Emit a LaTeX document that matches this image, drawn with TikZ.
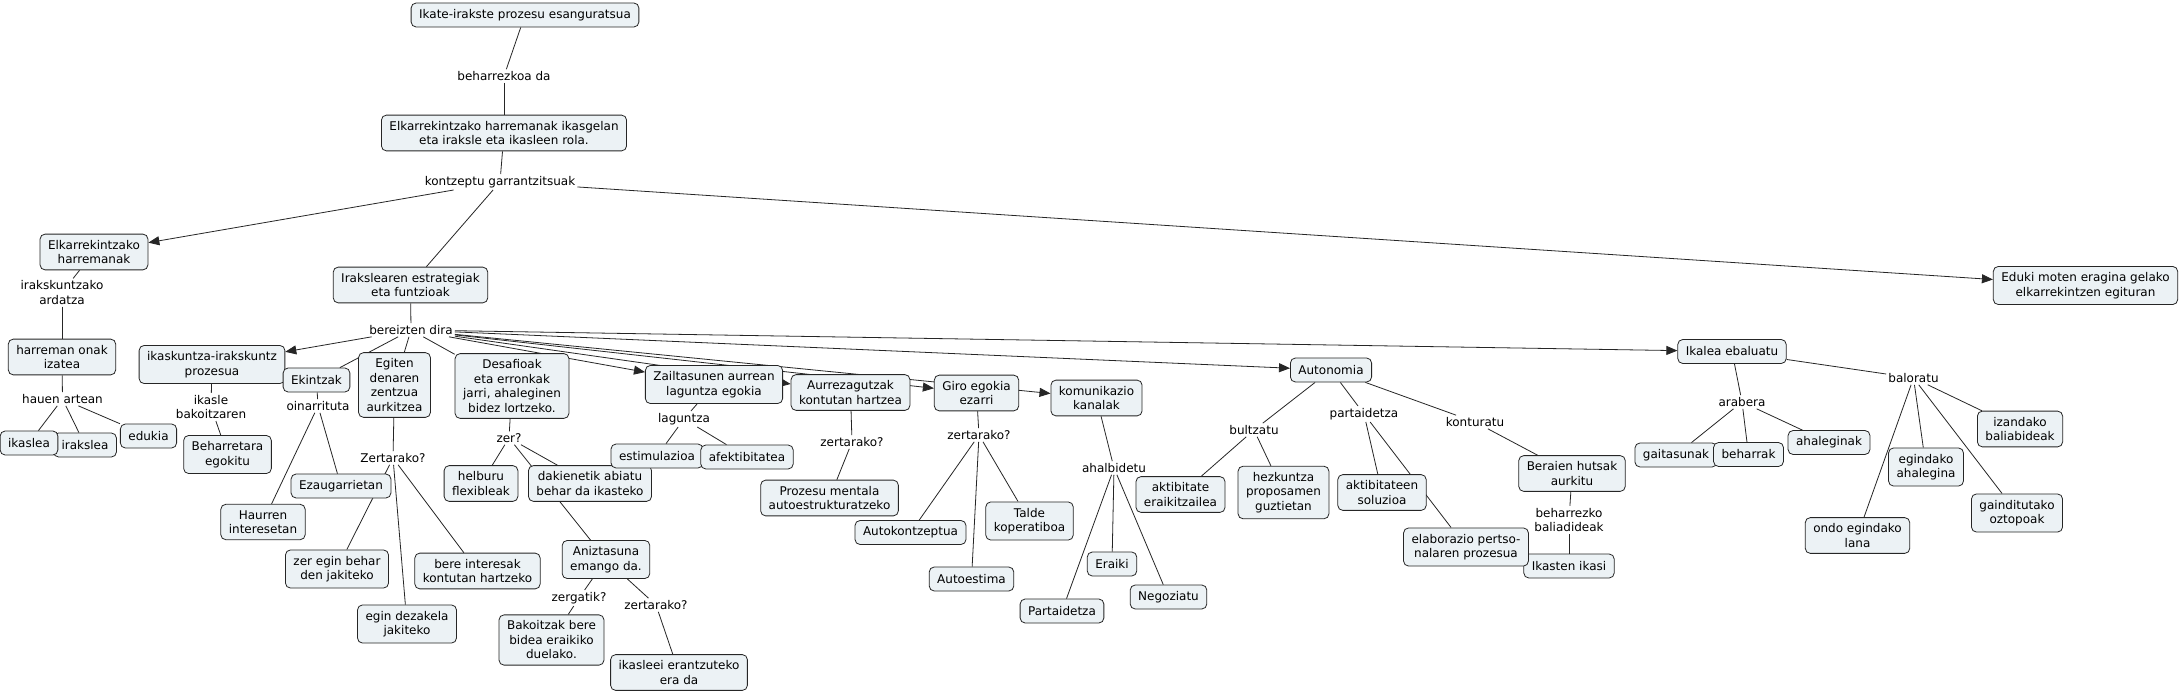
\documentclass[tikz,border=0pt]{standalone}
\usepackage{fontspec}
\setmainfont{DejaVu Sans}
\usetikzlibrary{arrows.meta,backgrounds}
\definecolor{cfill}{RGB}{236,242,245}

\begin{document}
\begin{tikzpicture}[
    x=1pt, y=-1pt,
    cpt/.style={rectangle, draw=black!85, fill=cfill, line width=0.8pt, rounded corners=5pt, align=center, minimum height=24pt, inner xsep=8pt, inner ysep=6pt, font=\fontsize{12}{14.5}\selectfont},
    lnk/.style={align=center, inner sep=2pt, font=\fontsize{12}{14.5}\selectfont},
    ln/.style={draw=black!85, line width=0.8pt},
    arr/.style={-{Triangle[length=11pt,width=9pt]}, line width=0.8pt, draw=black!85}
]
    \useasboundingbox (0,0) rectangle (2181,695);

    % top of the map
    \node [cpt] (ikate) at (525,15) {Ikate-irakste prozesu esanguratsua};
    \node [lnk] (lbeh) at (504,76) {beharrezkoa da};
    \node [cpt] (elkik) at (504,133) {Elkarrekintzako harremanak ikasgelan\\eta iraksle eta ikasleen rola.};
    \node [lnk] (lkon) at (500,182) {kontzeptu garrantzitsuak};
    \node [cpt] (elkh) at (94,252) {Elkarrekintzako\\harremanak};
    \node [cpt] (irak) at (410.5,285) {Irakslearen estrategiak\\eta funtzioak};
    \node [cpt] (eduki) at (2085.5,285.5) {Eduki moten eragina gelako\\elkarrekintzen egituran};

    % left branch
    \node [lnk] (lard) at (62,292.5) {irakskuntzako\\ardatza};
    \node [cpt] (harr) at (62,357) {harreman onak\\izatea};
    \node [lnk] (lhau) at (62.5,399) {hauen artean};
    \node [cpt] (irakslea) at (85,445) {irakslea};
    \node [cpt] (ikaslea) at (29,443) {ikaslea};
    \node [cpt] (edukia) at (148.5,436) {edukia};

    % strategies
    \node [lnk] (lber) at (411,330) {bereizten dira};
    \node [cpt] (ikask) at (212,364.5) {ikaskuntza-irakskuntz\\prozesua};
    \node [cpt] (ekin) at (316.5,380) {Ekintzak};
    \node [lnk] (lbak) at (211,407) {ikasle\\bakoitzaren};
    \node [cpt] (behar) at (227.5,454.5) {Beharretara\\egokitu};
    \node [lnk] (loin) at (318,406) {oinarrituta};
    \node [cpt] (haur) at (263,522) {Haurren\\interesetan};
    \node [cpt] (ezaug) at (341,486) {Ezaugarrietan};

    \node [cpt] (egiten) at (394.5,385) {Egiten\\denaren\\zentzua\\aurkitzea};
    \node [lnk] (lzert1) at (393,458) {Zertarako?};
    \node [cpt] (zeregin) at (337,569) {zer egin behar\\den jakiteko};
    \node [cpt] (bereint) at (477.5,571) {bere interesak\\kontutan hartzeko};
    \node [cpt] (egindez) at (407,624) {egin dezakela\\jakiteko};

    \node [cpt] (desaf) at (512,386) {Desafioak\\eta erronkak\\jarri, ahaleginen\\bidez lortzeko.};
    \node [lnk] (lzer) at (509,438) {zer?};
    \node [cpt] (helb) at (481,483.5) {helburu\\flexibleak};
    \node [cpt] (dakien) at (590,483.5) {dakienetik abiatu\\behar da ikasteko};
    \node [cpt] (aniz) at (606,559.5) {Aniztasuna\\emango da.};
    \node [lnk] (lzerg) at (579,598) {zergatik?};
    \node [lnk] (lzert2) at (656,605) {zertarako?};
    \node [cpt] (bakoi) at (551.5,640) {Bakoitzak bere\\bidea eraikiko\\duelako.};
    \node [cpt] (ikasleei) at (679,672.5) {ikasleei erantzuteko\\era da};

    \node [cpt] (zail) at (714,384.5) {Zailtasunen aurrean\\laguntza egokia};
    \node [lnk] (llag) at (684,419) {laguntza};
    \node [cpt] (estim) at (657,456) {estimulazioa};
    \node [cpt] (afekt) at (747,457) {afektibitatea};

    \node [cpt] (aurre) at (850.5,392.5) {Aurrezagutzak\\kontutan hartzea};
    \node [lnk] (lzert3) at (852,442) {zertarako?};
    \node [cpt] (prozesu) at (829.5,498) {Prozesu mentala\\autoestrukturatzeko};

    \node [cpt] (giro) at (976.5,393) {Giro egokia\\ezarri};
    \node [lnk] (lzert4) at (979,435) {zertarako?};
    \node [cpt] (autok) at (910.5,532.5) {Autokontzeptua};
    \node [cpt] (talde) at (1029.5,521) {Talde\\koperatiboa};
    \node [cpt] (autoe) at (971.5,579) {Autoestima};

    \node [cpt] (komun) at (1096.5,398) {komunikazio\\kanalak};
    \node [lnk] (lahal) at (1114,468) {ahalbidetu};
    \node [cpt] (eraiki) at (1112,564) {Eraiki};
    \node [cpt] (negoz) at (1168.5,597) {Negoziatu};
    \node [cpt] (parta) at (1062,611) {Partaidetza};

    % autonomy
    \node [cpt] (auton) at (1331,370) {Autonomia};
    \node [lnk] (lbul) at (1254,430) {bultzatu};
    \node [lnk] (lpar) at (1364,414) {partaidetza};
    \node [lnk] (lkontu) at (1475,422) {konturatu};
    \node [cpt] (aktera) at (1180.5,494.5) {aktibitate\\eraikitzailea};
    \node [cpt] (hezk) at (1283.5,492.5) {hezkuntza\\proposamen\\guztietan};
    \node [cpt] (aktsol) at (1382,492.5) {aktibitateen\\soluzioa};
    \node [cpt] (beraien) at (1572,473.5) {Beraien hutsak\\aurkitu};
    \node [lnk] (lbal) at (1569,520) {beharrezko\\baliadideak};
    \node [cpt] (ikasten) at (1569,566) {Ikasten ikasi};
    \node [cpt] (elab) at (1466,547) {elaborazio pertso-\\nalaren prozesua};

    % evaluation
    \node [cpt] (ikalea) at (1732,351.5) {Ikalea ebaluatu};
    \node [lnk] (larab) at (1742,402) {arabera};
    \node [cpt] (gaitas) at (1676,455) {gaitasunak};
    \node [cpt] (beharrak) at (1748.5,454.5) {beharrak};
    \node [cpt] (ahaleg) at (1829,442.5) {ahaleginak};
    \node [lnk] (lbalo) at (1913.5,378) {baloratu};
    \node [cpt] (izand) at (2020,429) {izandako\\baliabideak};
    \node [cpt] (egindak) at (1926,467) {egindako\\ahalegina};
    \node [cpt] (gaindi) at (2017,513) {gainditutako\\oztopoak};
    \node [cpt] (ondo) at (1857.5,535.5) {ondo egindako\\lana};

    \begin{pgfonlayer}{background}
    \fill [white] (0,0) rectangle (2181,695);
    \draw [ln] (ikate) -- (lbeh);
    \draw [ln] (lbeh) -- (elkik);
    \draw [ln] (elkik) -- (lkon);
    \draw [arr] (lkon) -- (elkh);
    \draw [ln] (lkon) -- (irak);
    \draw [arr] (lkon) -- (eduki);

    \draw [ln] (elkh) -- (lard);
    \draw [ln] (lard) -- (harr);
    \draw [ln] (harr) -- (lhau);
    \draw [ln] (lhau) -- (ikaslea);
    \draw [ln] (lhau) -- (irakslea);
    \draw [ln] (lhau) -- (edukia);

    \draw [ln] (irak) -- (lber);
    \draw [arr] (lber) -- (ikask);
    \draw [ln] (lber) -- (ekin);
    \draw [ln] (lber) -- (egiten);
    \draw [ln] (lber) -- (desaf);
    \draw [arr] (lber) -- (zail);
    \draw [arr] (lber) -- (aurre);
    \draw [arr] (lber) -- (giro);
    \draw [arr] (lber) -- (komun);
    \draw [arr] (lber) -- (auton);
    \draw [arr] (lber) -- (ikalea);

    \draw [ln] (ikask) -- (lbak);
    \draw [ln] (lbak) -- (behar);
    \draw [ln] (ekin) -- (loin);
    \draw [ln] (loin) -- (haur);
    \draw [ln] (loin) -- (ezaug);
    \draw [ln] (egiten) -- (lzert1);
    \draw [ln] (lzert1) -- (zeregin);
    \draw [ln] (lzert1) -- (egindez);
    \draw [ln] (lzert1) -- (bereint);

    \draw [ln] (desaf) -- (lzer);
    \draw [ln] (lzer) -- (helb);
    \draw [ln] (lzer) -- (dakien);
    \draw [ln] (lzer) -- (aniz);
    \draw [ln] (aniz) -- (lzerg);
    \draw [ln] (lzerg) -- (bakoi);
    \draw [ln] (aniz) -- (lzert2);
    \draw [ln] (lzert2) -- (ikasleei);

    \draw [ln] (zail) -- (llag);
    \draw [ln] (llag) -- (estim);
    \draw [ln] (llag) -- (afekt);
    \draw [ln] (aurre) -- (lzert3);
    \draw [ln] (lzert3) -- (prozesu);
    \draw [ln] (giro) -- (lzert4);
    \draw [ln] (lzert4) -- (autok);
    \draw [ln] (lzert4) -- (autoe);
    \draw [ln] (lzert4) -- (talde);
    \draw [ln] (komun) -- (lahal);
    \draw [ln] (lahal) -- (parta);
    \draw [ln] (lahal) -- (eraiki);
    \draw [ln] (lahal) -- (negoz);

    \draw [ln] (auton) -- (lbul);
    \draw [ln] (lbul) -- (aktera);
    \draw [ln] (lbul) -- (hezk);
    \draw [ln] (auton) -- (lpar);
    \draw [ln] (lpar) -- (aktsol);
    \draw [ln] (lpar) -- (elab);
    \draw [ln] (auton) -- (lkontu);
    \draw [ln] (lkontu) -- (beraien);
    \draw [ln] (beraien) -- (lbal);
    \draw [ln] (lbal) -- (ikasten);

    \draw [ln] (ikalea) -- (larab);
    \draw [ln] (larab) -- (gaitas);
    \draw [ln] (larab) -- (beharrak);
    \draw [ln] (larab) -- (ahaleg);
    \draw [ln] (ikalea) -- (lbalo);
    \draw [ln] (lbalo) -- (ondo);
    \draw [ln] (lbalo) -- (egindak);
    \draw [ln] (lbalo) -- (gaindi);
    \draw [ln] (lbalo) -- (izand);
    \end{pgfonlayer}
\end{tikzpicture}
\end{document}
